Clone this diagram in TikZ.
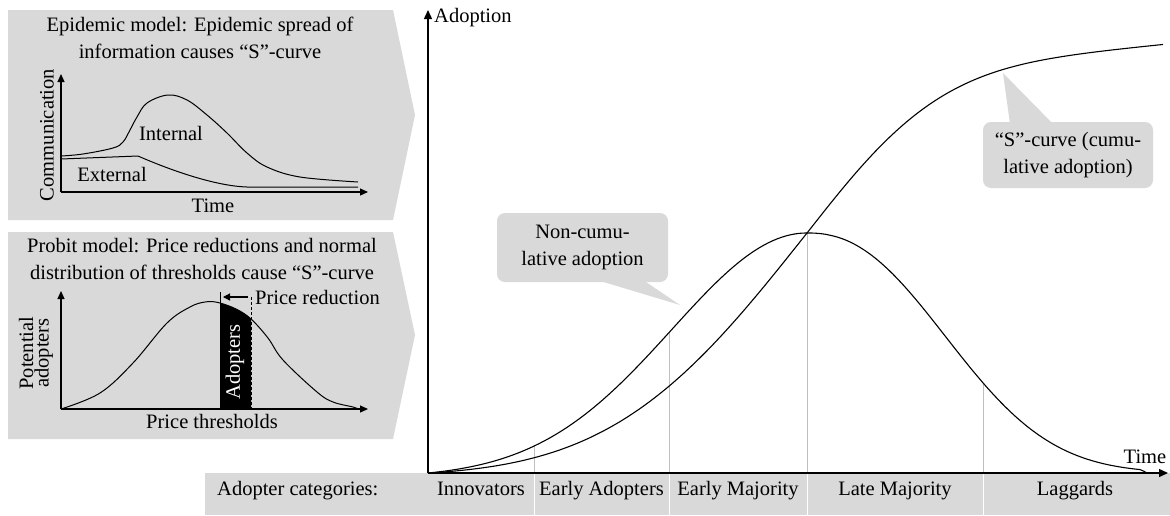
\documentclass[tikz,border=0pt]{standalone}
\usepackage{fontspec}
\setmainfont{Liberation Serif}
\usetikzlibrary{arrows.meta}
\definecolor{panelgray}{HTML}{D9D9D9}
\definecolor{guidegray}{HTML}{BFBFBF}
\begin{document}
\begin{tikzpicture}[x=1pt,y=-1pt,
  declare function={Phi(\z)=0.5*(1+tanh(0.7978846*(\z+0.044715*\z*\z*\z)));},
  every node/.style={font=\fontsize{20.5}{26.5}\selectfont, inner sep=0pt},
  ax/.style={line width=1.4pt, -{Triangle[length=9pt,width=8pt]}},
  smallax/.style={line width=1.2pt, -{Triangle[length=8pt,width=7pt]}},
  crv/.style={line width=1.1pt},
  smallcrv/.style={line width=1pt},
  guide/.style={guidegray, line width=0.9pt},
  sep/.style={white, line width=0.9pt},
  panel/.style={fill=panelgray},
  bubble/.style={fill=panelgray, rounded corners=8pt, align=center},
  title/.style={align=center, font=\fontsize{20.5}{27}\selectfont}]
\useasboundingbox (0,0) rectangle (1170,515);
\fill[white] (0,0) rectangle (1170,515);

% ---------- left panels ----------
\fill[panel] (8,10) -- (393,10) -- (415,115) -- (393,220) -- (8,220) -- cycle;
\fill[panel] (8,232) -- (393,232) -- (415,335) -- (393,439) -- (8,439) -- cycle;

% panel 1: epidemic model
\node[title] (t1) at (200,38) {Epidemic model: Epidemic spread of\\information causes ``S''-curve};
\coordinate (o1) at (61,192);
\coordinate (y1) at (61,74);
\coordinate (x1) at (368,192);
\draw[smallax] (o1) -- (y1);
\draw[smallax] (o1) -- (x1);
\node[rotate=90] (comm) at (47,135) {Communication};
\node (time1) at (213,206) {Time};
\draw[smallcrv] plot[smooth, tension=0.6] coordinates {(61,156) (83,154) (113,148) (123,142) (130,130) (137,117) (147,103) (168,95) (187,100) (207,115) (227,133) (247,153) (267,167) (300,177) (358,182)};
\draw[smallcrv] (61,159) -- (138,156) .. controls (170,170) and (215,186) .. (247,187) -- (358,187);
\node (int) at (171,133) {Internal};
\node (ext) at (112,174) {External};

% panel 2: probit model
\node[title] (t2) at (202,259) {Probit model: Price reductions and normal\\distribution of thresholds cause ``S''-curve};
\coordinate (o2) at (61,409);
\coordinate (y2) at (61,291);
\coordinate (x2) at (368,409);
\begin{scope}
  \clip (220,290) rectangle (251,410);
  \fill[black] plot[smooth, tension=0.6] coordinates {(61,409) (100,393) (133,363) (167,323) (190,307) (205,302) (218,302.5) (236,309) (251,319) (268,338) (283,360) (317,392) (333,402) (353,407) (358,409)} -- cycle;
\end{scope}
\draw[smallcrv] plot[smooth, tension=0.6] coordinates {(61,409) (100,393) (133,363) (167,323) (190,307) (205,302) (218,302.5) (236,309) (251,319) (268,338) (283,360) (317,392) (333,402) (353,407) (358,409)};
\draw[smallax] (o2) -- (y2);
\draw[smallax] (o2) -- (x2);
\draw[line width=0.9pt] (220,292) -- (220,409);
\draw[line width=0.9pt, dash pattern=on 3pt off 2pt] (251,297) -- (251,409);
\coordinate (prA) at (248,297);
\coordinate (prB) at (223,297);
\draw[line width=1.3pt, -{Triangle[length=7pt,width=7pt]}] (prA) -- (prB);
\node[anchor=west] (pr) at (255,297) {Price reduction};
\node[rotate=90, text=white] (adp) at (235,362) {Adopters};
\node[rotate=90, align=center, font=\fontsize{20.5}{15.5}\selectfont] (pot) at (36,353) {Potential\\adopters};
\node (pth) at (212,421) {Price thresholds};

% ---------- main chart ----------
\fill[panelgray] (205,473) rectangle (1170,515);
\foreach \xx in {534,669,807,983} \draw[sep] (\xx,473) -- (\xx,515);
\draw[guide] (534,473) -- (534,446);
\draw[guide] (669,473) -- (669,333);
\draw[guide] (807,473) -- (807,233);
\draw[guide] (983,473) -- (983,383);

\coordinate (O) at (428,473);
\coordinate (Y) at (428,10);
\coordinate (X) at (1168,473);
\draw[ax] (O) -- (Y);
\draw[ax] (O) -- (X);
\node[anchor=west] (adoption) at (434,18) {Adoption};
\node (time) at (1145,457) {Time};

% non-cumulative (bell)
\draw[crv] plot[domain=428:807, samples=90] (\x, {473 - 240*(exp(-0.5*((\x-807)/135)^2) - 0.01943)/0.98057})
  -- plot[domain=807.05:1140, samples=90] (\x, {473 - 240*exp(-((\x-807)/177.6)^2.3)})
  .. controls (1143,470.5) and (1145,472) .. (1147,473);
% cumulative S-curve
\draw[crv] plot[domain=428:807, samples=90] (\x, {473 - 480*(Phi((\x-807)/154) - 0.0069)/0.9862})
  -- plot[domain=807:1163, samples=90] (\x, {473 - (240 + 153*(2*Phi((\x-807)/104)-1) + 0.1*(\x-807))});

% categories
\node[anchor=base west] (cat) at (217,495) {Adopter categories:};
\node[anchor=base] (c1) at (481,495) {Innovators};
\node[anchor=base] (c2) at (601.5,495) {Early Adopters};
\node[anchor=base] (c3) at (738,495) {Early Majority};
\node[anchor=base] (c4) at (895,495) {Late Majority};
\node[anchor=base] (c5) at (1075,495) {Laggards};

% callouts
\node[bubble, minimum width=171, minimum height=69] (nc) at (582.5,247.5) {Non-cumu-\\lative adoption};
\coordinate (ncTip) at (680,305);
\fill[panelgray] (597,280) -- (ncTip) -- (643,280) -- cycle;
\node[bubble, minimum width=170, minimum height=66] (sc) at (1068,155) {``S''-curve (cumu-\\lative adoption)};
\coordinate (scTip) at (1003,73);
\fill[panelgray] (1010,124) -- (scTip) -- (1053,124) -- cycle;
\end{tikzpicture}
\end{document}
